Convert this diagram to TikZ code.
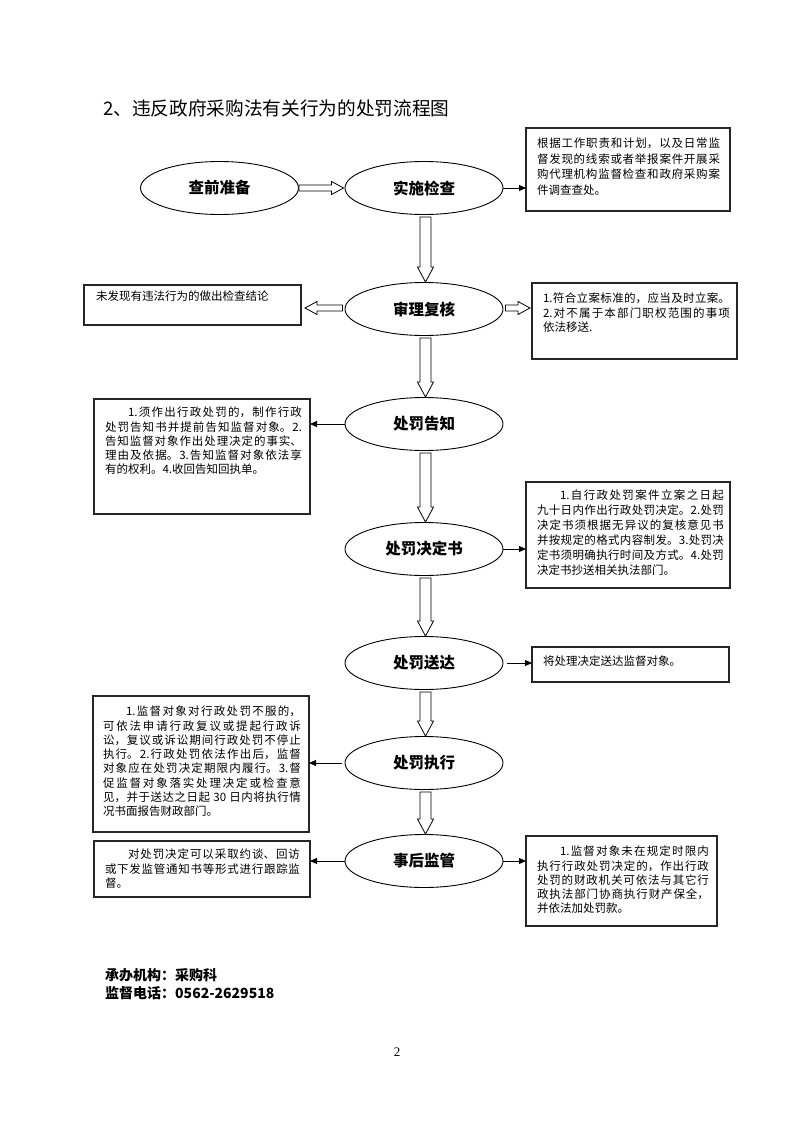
\documentclass[tikz,border=0pt]{standalone}
\usepackage{fontspec}
\setmainfont{Noto Sans CJK SC}
\newfontfamily\pgnumfont{Liberation Serif}
\usetikzlibrary{shapes.geometric,arrows.meta,calc}
\XeTeXlinebreaklocale "zh"
\XeTeXlinebreakskip=0pt plus 1pt
\tolerance=9999
\tikzset{
  stage/.style={ellipse, draw, line width=0.9pt, minimum width=158pt, minimum height=53pt,
    inner sep=0pt, font=\fontsize{15.5}{18}\selectfont\bfseries},
  infobox/.style={draw=black!85, line width=1.1pt, inner sep=0pt, outer sep=0pt, anchor=north west},
  infoline/.style={anchor=north west, inner sep=0pt, outer sep=0pt,
    font=\fontsize{11.5}{14.3}\selectfont},
  infotext/.style={infoline, align=justify},
  hollow/.style={draw, fill=white, line width=0.8pt, line join=miter},
  sarrow/.style={line width=0.9pt, -{Triangle[length=7pt,width=6pt]}},
}
\newcommand\hollowdown[2]{%
  \draw[hollow] let \p1=($(#1.south)+(1.5,2)$), \p2=(#2.north) in
    (\x1-5.5pt,\y1) -- (\x1+5.5pt,\y1) -- (\x1+5.5pt,\y2+15pt) -- (\x1+8pt,\y2+15pt)
    -- (\x1,\y2) -- (\x1-8pt,\y2+15pt) -- (\x1-5.5pt,\y2+15pt) -- cycle;}
\newcommand\hollowright[2]{%
  \draw[hollow] let \p1=(#1), \p2=(#2) in
    (\x1,\y1+3pt) -- (\x2-12pt,\y1+3pt) -- (\x2-12pt,\y1+6.5pt) -- (\x2,\y1)
    -- (\x2-12pt,\y1-6.5pt) -- (\x2-12pt,\y1-3pt) -- (\x1,\y1-3pt) -- cycle;}
\newcommand\hollowleft[2]{%
  \draw[hollow] let \p1=(#1), \p2=(#2) in
    (\x1,\y1+3pt) -- (\x2+12pt,\y1+3pt) -- (\x2+12pt,\y1+6.5pt) -- (\x2,\y1)
    -- (\x2+12pt,\y1-6.5pt) -- (\x2+12pt,\y1-3pt) -- (\x1,\y1-3pt) -- cycle;}
\begin{document}
\begin{tikzpicture}[x=1pt,y=-1pt]
\fill[white] (0,0) rectangle (794,1122);
\useasboundingbox (0,0) rectangle (794,1122);

% title
\node[anchor=west, inner sep=0pt, font=\fontsize{18.67}{22}\selectfont] (title) at (103,108) {2、违反政府采购法有关行为的处罚流程图};

% stages
\node[stage] (e1) at (219.5,188) {查前准备};
\node[stage] (e2) at (424,188) {实施检查};
\node[stage] (e3) at (424,309) {审理复核};
\node[stage] (e4) at (424,424) {处罚告知};
\node[stage] (e5) at (424,549) {处罚决定书};
\node[stage] (e6) at (424,663) {处罚送达};
\node[stage] (e7) at (424,763) {处罚执行};
\node[stage] (e8) at (424,861) {事后监管};

% boxes
\node[infobox, minimum width=204pt, minimum height=83pt] (b1) at (526,128) {};
\node[infobox, minimum width=217pt, minimum height=40pt] (b2) at (84,285) {};
\node[infobox, minimum width=205pt, minimum height=76pt] (b3) at (532,283) {};
\node[infobox, minimum width=216pt, minimum height=115pt] (b4) at (94,399) {};
\node[infobox, minimum width=204pt, minimum height=106pt] (b5) at (526,482) {};
\node[infobox, minimum width=197pt, minimum height=35pt] (b6) at (532,647) {};
\node[infobox, minimum width=216pt, minimum height=136pt] (b7) at (93,696) {};
\node[infobox, minimum width=216pt, minimum height=56pt] (b8) at (94,841) {};
\node[infobox, minimum width=191pt, minimum height=90pt] (b9) at (526,836) {};

% box texts
\node[infotext, text width=183pt, font=\fontsize{11.5}{15.5}\selectfont] (t1) at (537,138) {\noindent 根据工作职责和计划，以及日常监\linebreak 督发现的线索或者举报案件开展采\linebreak 购代理机构监督检查和政府采购案\linebreak 件调查查处。};
\node[infoline] (t2) at (96,291) {未发现有违法行为的做出检查结论};
\node[infotext, text width=187pt] (t3) at (543,293) {\noindent 1.符合立案标准的，应当及时立案。\linebreak 2.对不属于本部门职权范围的事项\linebreak 依法移送.};
\node[infotext, text width=197pt] (t4) at (105,407) {\noindent\hspace*{23pt}1.须作出行政处罚的，制作行政\linebreak 处罚告知书并提前告知监督对象。2.\linebreak 告知监督对象作出处理决定的事实、\linebreak 理由及依据。3.告知监督对象依法享\linebreak 有的权利。4.收回告知回执单。};
\node[infotext, text width=187pt, font=\fontsize{11.5}{15}\selectfont] (t5) at (537,490) {\noindent\hspace*{23pt}1.自行政处罚案件立案之日起\linebreak 九十日内作出行政处罚决定。2.处罚\linebreak 决定书须根据无异议的复核意见书\linebreak 并按规定的格式内容制发。3.处罚决\linebreak 定书须明确执行时间及方式。4.处罚\linebreak 决定书抄送相关执法部门。};
\node[infoline] (t6) at (543,656) {将处理决定送达监督对象。};
\node[infotext, text width=198pt] (t7) at (103,706) {\noindent\hspace*{23pt}1.监督对象对行政处罚不服的，\linebreak 可依法申请行政复议或提起行政诉\linebreak 讼，复议或诉讼期间行政处罚不停止\linebreak 执行。2.行政处罚依法作出后，监督\linebreak 对象应在处罚决定期限内履行。3.督\linebreak 促监督对象落实处理决定或检查意\linebreak 见，并于送达之日起 30 日内将执行情\linebreak 况书面报告财政部门。};
\node[infotext, text width=195pt] (t8) at (105,849) {\noindent\hspace*{23pt}对处罚决定可以采取约谈、回访\linebreak 或下发监管通知书等形式进行跟踪监\linebreak 督。};
\node[infotext, text width=172pt] (t9) at (537,846) {\noindent\hspace*{23pt}1.监督对象未在规定时限内\linebreak 执行行政处罚决定的，作出行政\linebreak 处罚的财政机关可依法与其它行\linebreak 政执法部门协商执行财产保全，\linebreak 并依法加处罚款。};

% hollow arrows
\hollowright{e1.east}{$(e2.west)+(-1,0)$}
\hollowdown{e2}{e3}
\hollowleft{$(e3.west)+(-2,-1)$}{$(e3.west -| b2.east)+(4,-1)$}
\hollowright{$(e3.east)+(2,-1)$}{$(e3.east -| b3.west)+(-2,-1)$}
\hollowdown{e3}{e4}
\hollowdown{e4}{e5}
\hollowdown{e5}{e6}
\hollowdown{e6}{e7}
\hollowdown{e7}{e8}

% solid arrows
\draw[sarrow] (e2.east) -- (e2.east -| b1.west);
\draw[sarrow] (e4.west) -- (e4.west -| b4.east);
\draw[sarrow] (e5.east) -- (e5.east -| b5.west);
\draw[sarrow, shorten <=4pt] (e6.east) -- (e6.east -| b6.west);
\draw[sarrow, shorten <=3pt] (e7.west) -- (e7.west -| b7.east);
\draw[sarrow] (e8.west) -- (e8.west -| b8.east);
\draw[sarrow] (e8.east) -- (e8.east -| b9.west);

% footer
\node[anchor=west, inner sep=0pt, font=\fontsize{14}{17}\selectfont\bfseries] (org) at (105,975) {承办机构：采购科};
\node[anchor=west, inner sep=0pt, font=\fontsize{14}{17}\selectfont\bfseries] (tel) at (105,993) {监督电话：0562-2629518};
\node[inner sep=0pt, font=\pgnumfont\fontsize{13}{15}\selectfont] (pg) at (397,1052) {2};
\end{tikzpicture}
\end{document}
